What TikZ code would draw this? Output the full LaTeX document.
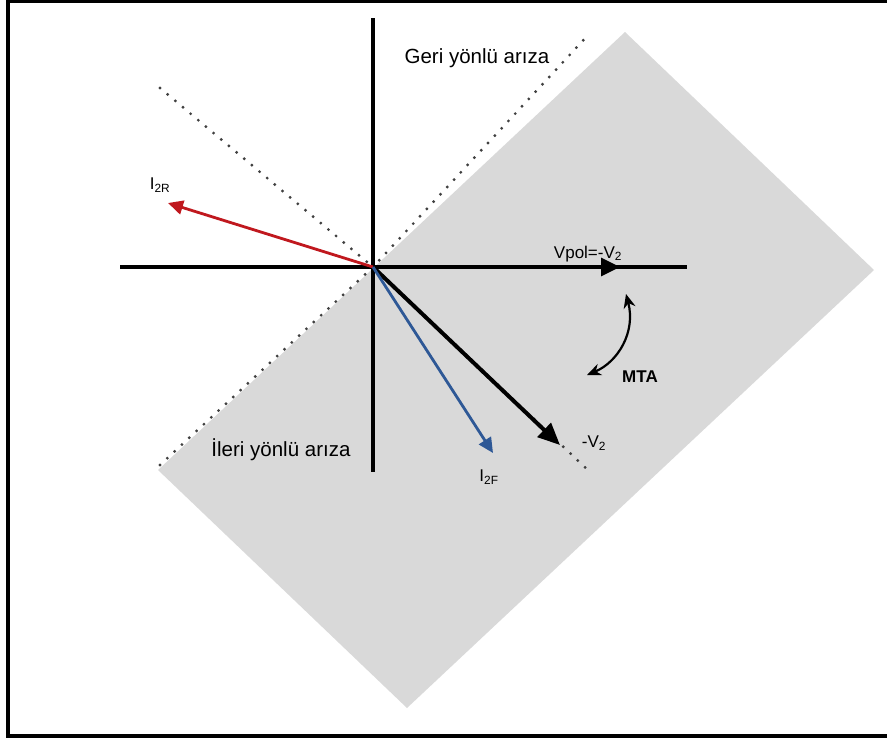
\documentclass[tikz,border=0pt]{standalone}
\usepackage{fontspec}
\setmainfont{Liberation Sans}
\usetikzlibrary{arrows.meta}
\definecolor{regiongray}{RGB}{217,217,217}
\definecolor{ired}{RGB}{192,24,30}
\definecolor{iblue}{RGB}{46,88,150}
\begin{document}
\begin{tikzpicture}[x=1pt,y=-1pt,
  axis/.style={line width=3.2pt, black},
  dotline/.style={line width=3.2pt, dash pattern=on 0pt off 10pt, line cap=round, black!75},
  phasor/.style={line width=2.8pt},
  lbl/.style={font=\fontsize{17}{20}\selectfont, inner sep=0pt},
  big/.style={font=\fontsize{20.5}{24}\selectfont, inner sep=0pt}]
\useasboundingbox (0,0) rectangle (887,740);
% region
\fill[regiongray] (158,470) -- (625,32) -- (874,270) -- (407,708) -- cycle;
% frame
\draw[line width=3.5pt] (892,1.5) -- (8,1.5) -- (8,736) -- (892,736);
% coordinates
\coordinate (O) at (373,267);
\coordinate (vtop) at (373,18);
\coordinate (vbot) at (373,472);
\coordinate (hl) at (120,267);
\coordinate (hr) at (687,267);
\coordinate (vtip) at (620,267);
\coordinate (mtip) at (560,445);
\coordinate (d1a) at (160,88);
\coordinate (d1b) at (590,472);
\coordinate (d2a) at (160,465);
\coordinate (d2b) at (590,33);
\coordinate (rtip) at (168,203);
\coordinate (btip) at (493,453);
\coordinate (arcA) at (587,375);
\coordinate (arcB) at (626,294);
% dotted lines
\draw[dotline] (d1a) -- (O) -- (d1b);
\draw[dotline] (d2a) -- (O) -- (d2b);
% axes
\draw[axis] (hl) -- (hr);
\draw[axis] (vtop) -- (vbot);
% phasors
\draw[axis, -{Triangle[length=19pt,width=18pt]}] (O) -- (vtip);
\draw[line width=4pt, -{Triangle[length=22pt,width=19pt]}] (O) -- (mtip);
\draw[phasor, ired, -{Triangle[length=15pt,width=14pt]}] (O) -- (rtip);
\draw[phasor, iblue, -{Triangle[length=15pt,width=14pt]}] (O) -- (btip);
% MTA arc
\draw[line width=2.2pt, {Stealth[length=14pt,width=12pt]}-{Stealth[length=14pt,width=12pt]}]
  (arcA) .. controls (618,362) and (636,332) .. (arcB);
% labels
\node[big] (geri) at (477,58) {Geri yönlü arıza};
\node[big] (ileri) at (281,450) {İleri yönlü arıza};
\node[lbl] (i2r) at (160,185) {I\textsubscript{2R}};
\node[lbl] (vpol) at (588,254) {Vpol=-V\textsubscript{2}};
\node[lbl] (mv2) at (594,443) {-V\textsubscript{2}};
\node[lbl] (i2f) at (489,477) {I\textsubscript{2F}};
\node[lbl, font=\fontsize{17}{20}\selectfont\bfseries] (mta) at (640,377) {MTA};
\end{tikzpicture}
\end{document}
